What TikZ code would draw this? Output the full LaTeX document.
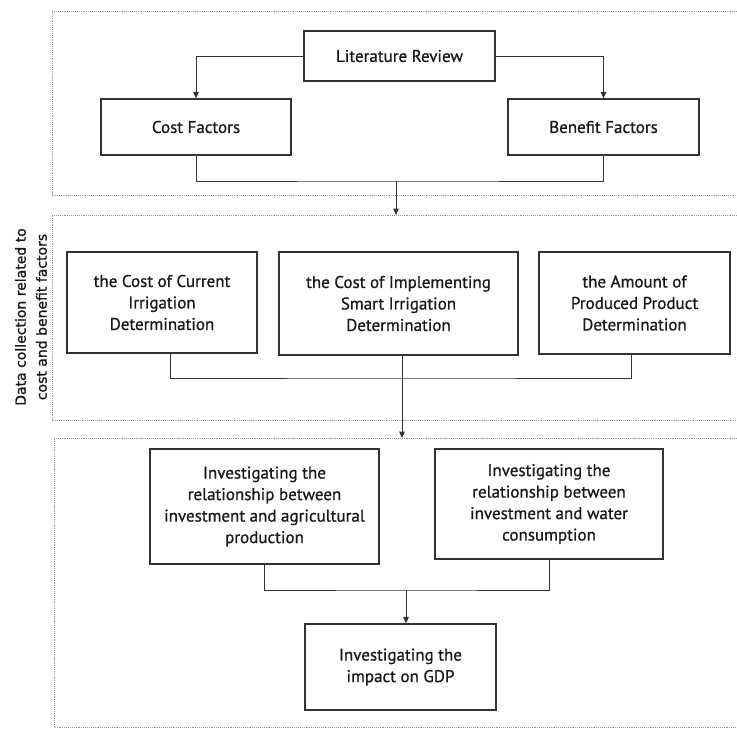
\documentclass[tikz,border=0pt]{standalone}
\usepackage{fontspec}
\setmainfont{PT Sans}
\newfontfamily\labfont[FakeBold=1.2]{DejaVu Sans}
\usetikzlibrary{arrows.meta}
\begin{document}
\begin{tikzpicture}[x=1pt,y=-1pt,
  box/.style={draw=black!80, line width=1.2pt, fill=white, align=center, inner sep=0pt,
    font=\addfontfeatures{FakeBold=0.8}\fontsize{17}{21.5}\selectfont, text=black!90},
  frame/.style={draw=black!40, densely dotted, line width=0.9pt},
  conn/.style={draw=black!80, line width=1pt},
  arr/.style={conn, -{Triangle[length=6.5pt,width=5.5pt]}}]
\useasboundingbox (0,0) rectangle (737,729);
% frames
\draw[frame] (737,11) -- (52,11) -- (52,195) -- (737,195);
\draw[frame] (737,215) -- (52,215) -- (52,420) -- (737,420);
\draw[frame] (737,438) -- (54,438) -- (54,727) -- (737,727);
% section 1
\node[box, minimum width=191pt, minimum height=50pt] (lit) at (399.5,56) {Literature Review};
\node[box, minimum width=190pt, minimum height=56pt] (cost) at (196,127) {Cost Factors};
\node[box, minimum width=191pt, minimum height=56pt] (ben) at (603.5,127) {Benefit Factors};
\coordinate (j1) at (396,181);
\coordinate (f2top) at (396,215);
\draw[arr] (lit.west) -| (cost.north);
\draw[arr] (lit.east) -| (ben.north);
\draw[conn] (cost.south) |- (j1) -| (ben.south);
\draw[arr] (j1) -- (f2top);
% section 2
\node[rotate=90, align=center, font=\labfont\fontsize{14}{21}\selectfont, text=black!90] (lab) at (31,317)
  {Data collection related to\\cost and benefit factors};
\node[box, minimum width=190pt, minimum height=101pt] (b1) at (162,302.5) {the Cost of Current\\Irrigation\\Determination};
\node[box, minimum width=239pt, minimum height=103pt] (b2) at (398.5,303.5) {the Cost of Implementing\\Smart Irrigation\\Determination};
\node[box, minimum width=191pt, minimum height=102pt] (b3) at (634.5,303) {the Amount of\\Produced Product\\Determination};
\coordinate (j2) at (402,378);
\coordinate (f3top) at (402,438);
\draw[conn] ([xshift=8pt]b1.south) |- (j2) -| ([xshift=-3.5pt]b3.south);
\draw[arr] ([xshift=3.5pt]b2.south) -- (f3top);
% section 3
\node[box, minimum width=229pt, minimum height=115pt] (agri) at (264.5,506.5) {Investigating the\\relationship between\\investment and agricultural\\production};
\node[box, minimum width=228pt, minimum height=110pt] (water) at (549,504) {Investigating the\\relationship between\\investment and water\\consumption};
\node[box, minimum width=191pt, minimum height=86pt] (gdp) at (400.5,667) {Investigating the\\impact on GDP};
\coordinate (j3) at (406,590);
\draw[conn] (agri.south) |- (j3) -| (water.south);
\draw[arr] (j3) -- (j3 |- gdp.north);
\end{tikzpicture}
\end{document}
